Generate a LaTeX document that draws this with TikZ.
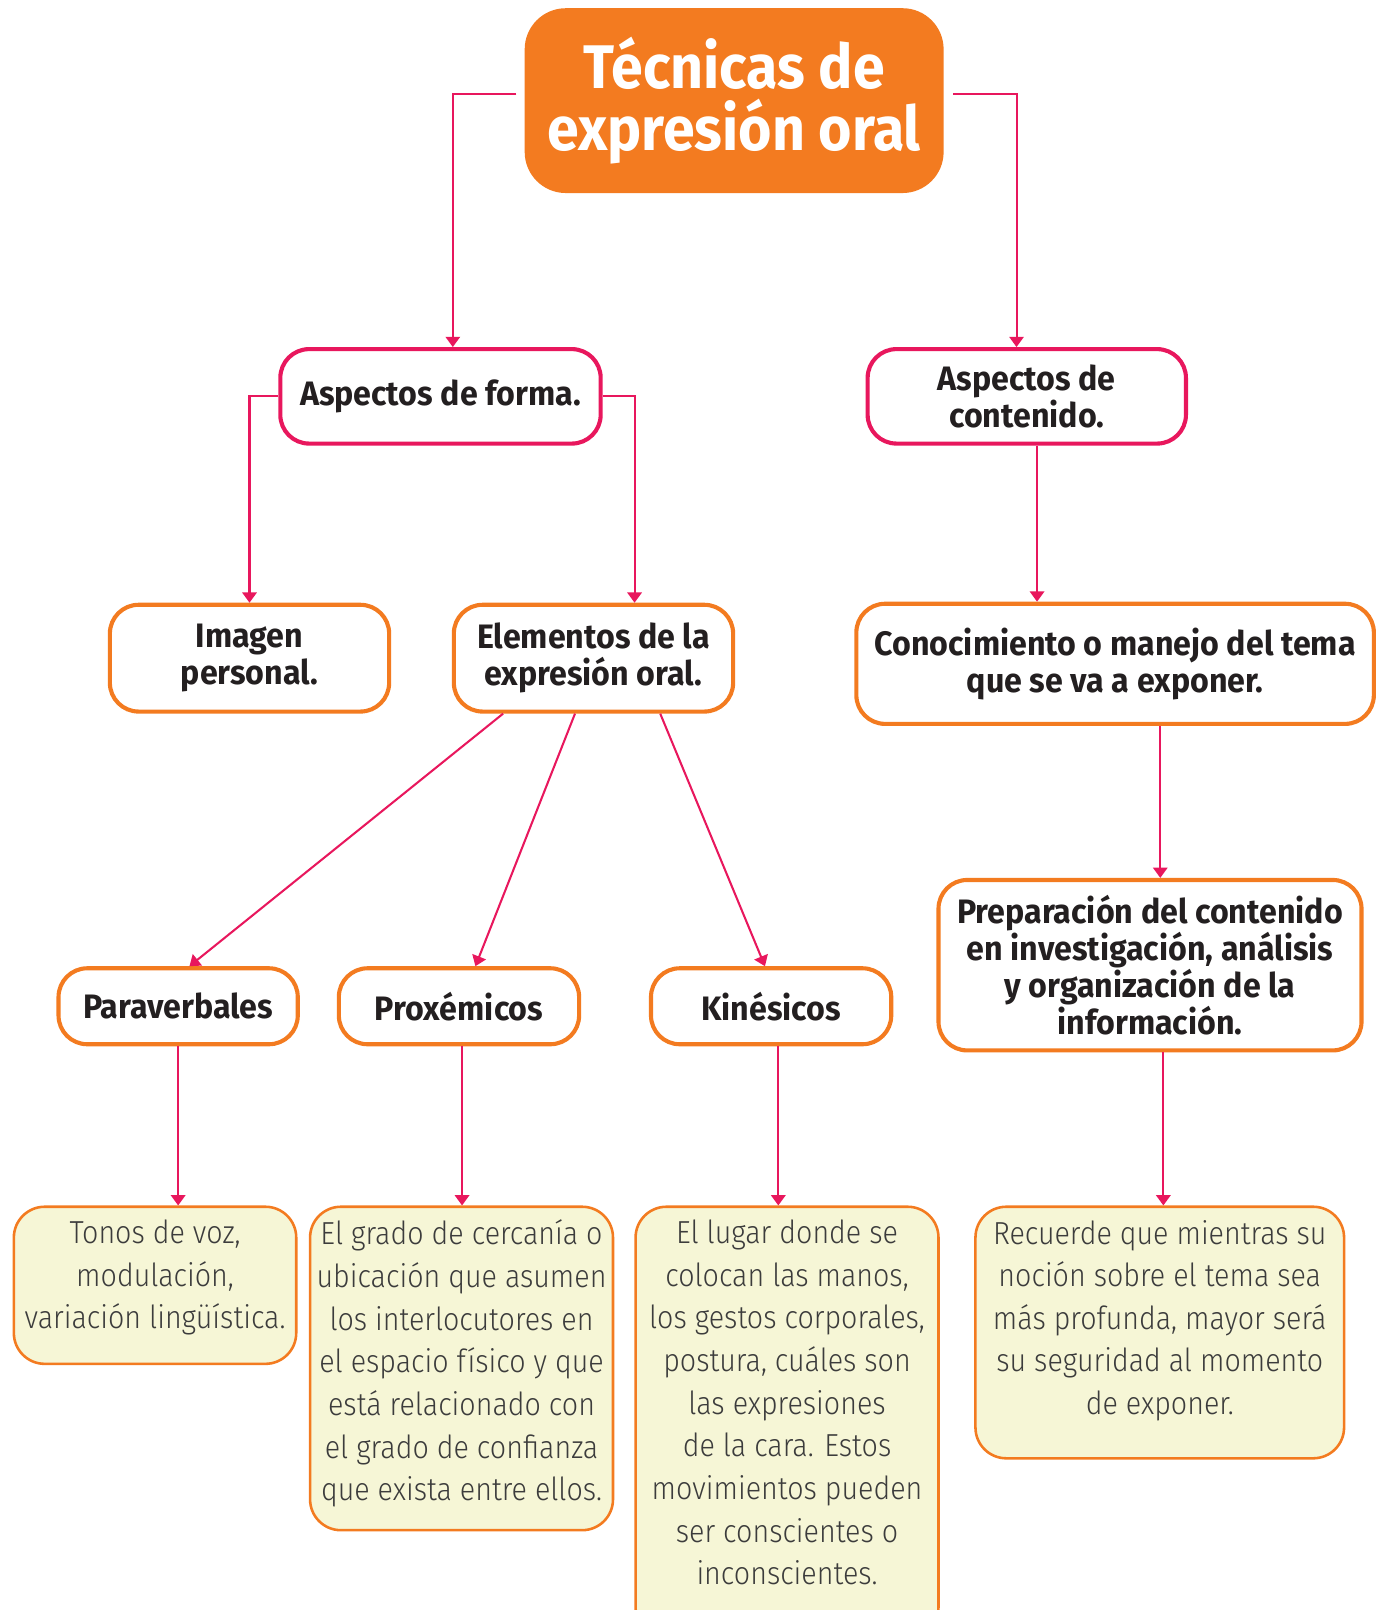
\documentclass[tikz,border=0pt]{standalone}
\usepackage{fontspec}
\setmainfont{Fira Sans}[FakeStretch=0.95]
\newfontfamily\titlefont{Fira Sans}[FakeStretch=0.93]
\newfontfamily\lightfont{Fira Sans Light}[FakeStretch=0.9]
\usetikzlibrary{positioning,arrows.meta,calc}
\definecolor{naranja}{HTML}{F37B20}
\definecolor{rosa}{HTML}{E8175D}
\definecolor{crema}{HTML}{F6F6D6}
\definecolor{tinta}{HTML}{231F20}
\definecolor{gris}{HTML}{3C3C3C}
\tikzset{
titulo/.style={fill=naranja,text=white,rounded corners=40pt,minimum width=408pt,minimum height=180pt,
align=center,font=\titlefont\bfseries\fontsize{60}{61}\selectfont},
aspecto/.style={draw=rosa,line width=4pt,rounded corners=28pt,fill=white,text=tinta,align=center,
font=\bfseries\fontsize{33}{36}\selectfont},
elemento/.style={aspecto,draw=naranja},
nota/.style={draw=naranja,line width=2.5pt,fill=crema,rounded corners=30pt,inner sep=0pt,anchor=north,
text=gris,font=\lightfont\fontsize{31}{41.5}\selectfont},
flecha/.style={-{Triangle[width=14pt,length=10pt]},draw=rosa,line width=2pt}
}

\begin{document}
\begin{tikzpicture}[x=1pt, y=-1pt]
\useasboundingbox (0,0) rectangle (1344,1568);
\clip (0,0) rectangle (1344,1568);

\node[titulo] (titulo) at (715,98) {Técnicas de\\expresión oral};

\node[aspecto,minimum width=312pt,minimum height=92pt] (forma) at (429,386) {Aspectos de forma.};
\node[aspecto,minimum width=310pt,minimum height=92pt] (contenido) at (1000,386) {Aspectos de\\contenido.};

\node[elemento,minimum width=272pt,minimum height=104pt] (imagen) at (243,641) {Imagen\\personal.};
\node[elemento,minimum width=272pt,minimum height=104pt] (elementos) at (578,641) {Elementos de la\\expresión oral.};
\node[elemento,minimum width=504pt,minimum height=117pt] (conocimiento) at (1086,646.5) {Conocimiento o manejo del tema\\que se va a exponer.};
\node[elemento,minimum width=412pt,minimum height=166pt] (preparacion) at (1120,940) {Preparación del contenido\\en investigación, análisis\\y organización de la\\información.};

\node[elemento,minimum width=233pt,minimum height=74pt] (para) at (173.5,980) {Paraverbales};
\node[elemento,minimum width=234pt,minimum height=74pt] (proxe) at (447,980) {Proxémicos};
\node[elemento,minimum width=234pt,minimum height=74pt] (kine) at (751,980) {Kinésicos};

\node[nota] (tonos) at (151,1174) {\parbox[t][153pt][t]{275pt}{\centering\vspace*{13pt}
Tonos de voz,\\ modulación,\\ variación lingüística.}};
\node[nota] (grado) at (449.5,1174) {\parbox[t][315pt][t]{295pt}{\centering\vspace*{13pt}
El grado de cercanía o\\ ubicación que asumen\\ los interlocutores en\\ el espacio físico y que\\
está relacionado con\\ el grado de confianza\\ que exista entre ellos.}};
\node[nota] (lugar) at (766.5,1174) {\parbox[t][420pt][t]{295pt}{\centering\vspace*{13pt}
El lugar donde se\\ colocan las manos,\\ los gestos corporales,\\ postura, cuáles son\\ las expresiones\\
de la cara. Estos\\ movimientos pueden\\ ser conscientes o\\ inconscientes.}};
\node[nota] (recuerde) at (1129.5,1174) {\parbox[t][245pt][t]{359pt}{\centering\vspace*{13pt}
Recuerde que mientras su\\ noción sobre el tema sea\\ más profunda, mayor será\\ su seguridad al momento\\ de exponer.}};

\draw[flecha] ([xshift=-8pt,yshift=6pt]titulo.west) -| ([xshift=12pt]forma.north);
\draw[flecha] ([xshift=9pt,yshift=6pt]titulo.east) -| ([xshift=-10pt]contenido.north);
\draw[flecha] (forma.west) -| (imagen.north);
\draw[flecha] (forma.east) -| ([xshift=40pt]elementos.north);
\draw[flecha] ([xshift=10pt]contenido.south) -- ([xshift=10pt]contenido.south |- conocimiento.north);
\draw[flecha] ([xshift=44pt]conocimiento.south) -- ([xshift=44pt]conocimiento.south |- preparacion.north);
\draw[flecha] ([xshift=13pt]preparacion.south) -- ([xshift=13pt]preparacion.south |- recuerde.north);

\draw[flecha] ([xshift=-88pt]elementos.south) -- ([xshift=11pt]para.north);
\draw[flecha] ([xshift=-18pt]elementos.south) -- ([xshift=16pt]proxe.north);
\draw[flecha] ([xshift=65pt]elementos.south) -- ([xshift=-6pt]kine.north);

\draw[flecha] (para.south) -- (para.south |- tonos.north);
\draw[flecha] ([xshift=3pt]proxe.south) -- ([xshift=3pt]proxe.south |- grado.north);
\draw[flecha] ([xshift=7pt]kine.south) -- ([xshift=7pt]kine.south |- lugar.north);

\end{tikzpicture}
\end{document}
